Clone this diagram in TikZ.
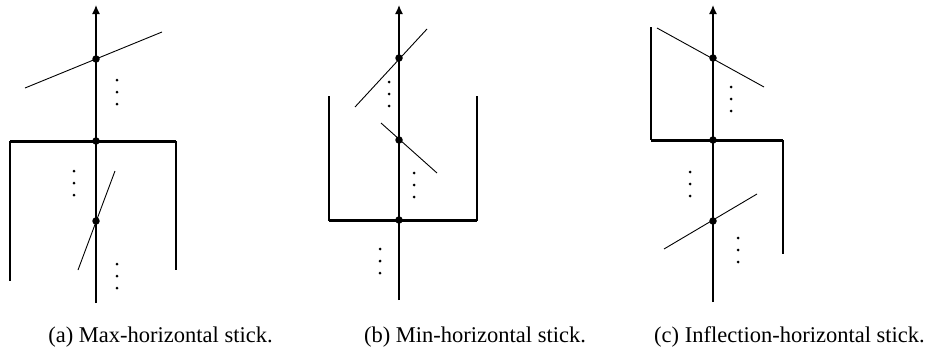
\documentclass[tikz,border=0pt]{standalone}
\usepackage{fontspec}
\setmainfont{Liberation Serif}
\usetikzlibrary{arrows.meta}
\tikzset{
    axis/.style={line width=1.4pt,-{Latex[length=9pt,width=8pt]}},
    stick/.style={line width=0.9pt},
    bar/.style={line width=3pt},
    frame/.style={line width=1.7pt},
    vtx/.style={circle,fill=black,inner sep=0pt,minimum size=7.5pt},
    caption/.style={anchor=base,inner sep=0pt,font=\fontsize{22.5}{27}\selectfont}
}
\newcommand{\vdotcol}[2]{\foreach \k in {0,1,2} \fill (#1,#2+12*\k) circle (1.5);}

\begin{document}
\begin{tikzpicture}[x=1pt,y=-1pt]
\useasboundingbox (0,0) rectangle (946,351);

% (a) max-horizontal
\draw[axis] (96,303) -- (96,5);
\draw[stick] (25,88) -- (162,32);
\draw[stick] (78,270) -- (115,171);
\draw[frame] (10,141) -- (10,281);
\draw[frame] (176,141) -- (176,270);
\draw[bar] (10,141) -- (176,141);
\node[vtx] (a1) at (96,59) {};
\node[vtx] (a2) at (96,141) {};
\node[vtx] (a3) at (96,221) {};
\vdotcol{117}{80}
\vdotcol{74}{171}
\vdotcol{117}{264}
\node[caption] (capa) at (160.5,342) {(a) Max-horizontal stick.};

% (b) min-horizontal
\draw[axis] (399,300) -- (399,5);
\draw[stick] (355,107) -- (427,29);
\draw[stick] (381,123) -- (437,173);
\draw[frame] (329,96) -- (329,221);
\draw[frame] (477,96) -- (477,221);
\draw[bar] (329,220) -- (477,220);
\node[vtx] (b1) at (399,58) {};
\node[vtx] (b2) at (399,140) {};
\node[vtx] (b3) at (399,220) {};
\vdotcol{389}{82}
\vdotcol{414}{173}
\vdotcol{380}{249}
\node[caption] (capb) at (475,342) {(b) Min-horizontal stick.};

% (c) inflection-horizontal
\draw[axis] (713,302) -- (713,5);
\draw[stick] (657,28) -- (764,87);
\draw[stick] (664,249) -- (757,194);
\draw[frame] (651,27) -- (651,140);
\draw[frame] (783,140) -- (783,254);
\draw[bar] (651,140) -- (783,140);
\node[vtx] (c1) at (713,58) {};
\node[vtx] (c2) at (713,140) {};
\node[vtx] (c3) at (713,221) {};
\vdotcol{731}{87}
\vdotcol{690}{172}
\vdotcol{738}{238}
\node[caption] (capc) at (789.5,342) {(c) Inflection-horizontal stick.};
\end{tikzpicture}
\end{document}
